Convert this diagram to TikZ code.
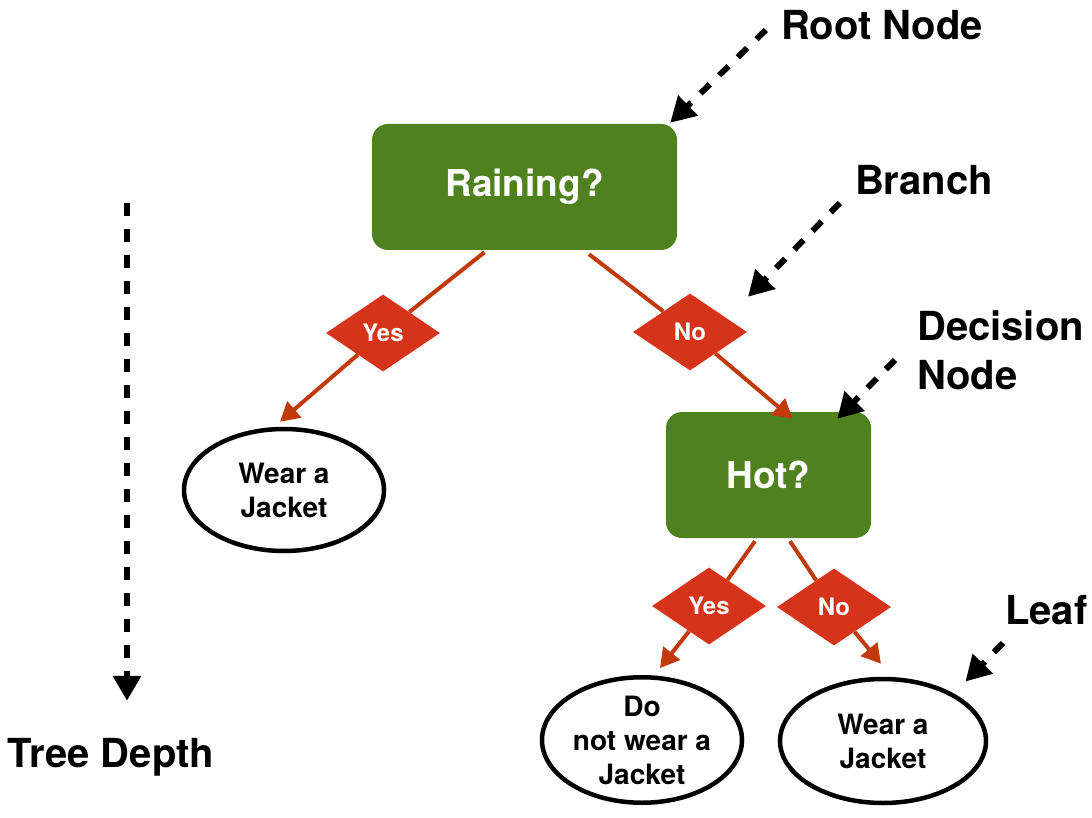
\documentclass[tikz,border=0pt]{standalone}
\usepackage{fontspec}
\setmainfont{TeX Gyre Heros}
\usepackage{xcolor}
\definecolor{boxgreen}{HTML}{4F821E}
\definecolor{diamred}{HTML}{D5331A}
\definecolor{linered}{HTML}{C03A0C}
\usepackage{tikz}
\usetikzlibrary{shapes,arrows.meta}
\tikzstyle{question} = [rectangle, rounded corners=16pt, fill=boxgreen, text=white,
    minimum height=126pt, font=\bfseries\fontsize{37}{44}\selectfont]
\tikzstyle{answer} = [diamond, fill=diamred, text=white, inner sep=0pt,
    minimum width=114pt, minimum height=77pt, font=\bfseries\fontsize{24}{28}\selectfont]
\tikzstyle{outcome} = [ellipse, draw, line width=4.5pt, minimum width=200pt, minimum height=122pt,
    align=center, inner sep=0pt, font=\bfseries\fontsize{28}{34}\selectfont]
\tikzstyle{callout} = [inner sep=0pt, font=\bfseries\fontsize{40}{49}\selectfont]
\tikzstyle{line} = [draw=linered, line width=4pt]
\tikzstyle{pointer} = [draw, line width=6pt, dash pattern=on 13pt off 13pt,
    -{Triangle[width=27pt,length=25pt]}]

\begin{document}
\begin{tikzpicture}[x=1pt,y=-1pt]
    \useasboundingbox (0,0) rectangle (1092,818);
    % Place nodes
    \node [question,minimum width=305pt] (rain) at (524.5,187) {Raining?};
    \node [question,minimum width=205pt] (hot) at (768.5,475) {Hot?};
    \node [answer] (yes1) at (383,333) {Yes};
    \node [answer] (no1) at (690,332) {No};
    \node [answer] (yes2) at (709,606) {Yes};
    \node [answer] (no2) at (834,607) {No};
    \node [outcome] (wear1) at (284,490) {Wear a\\Jacket};
    \node [outcome] (nowear) at (642,740) {Do\\not wear a\\Jacket};
    \node [outcome,minimum width=206pt,minimum height=124pt] (wear2) at (883,741) {Wear a\\Jacket};

    % labels
    \node [callout] (rootlbl) at (882,25) {Root Node};
    \node [callout] (branchlbl) at (924,180) {Branch};
    \node [callout,anchor=west,align=left] (declbl) at (917,350) {Decision\\Node};
    \node [callout,anchor=west] (leaflbl) at (1005,610) {Leaf};
    \node [callout] (depthlbl) at (111,757) {Tree Depth};
    \coordinate (depthtop) at (127,203);

    % Draw edges
    \path [line] ([xshift=-40pt,yshift=-2pt]rain.south) -- (yes1);
    \path [line,-{Triangle[width=21pt,length=19pt]}] (yes1) -- ([xshift=-4pt,yshift=5pt]wear1.north);
    \path [line] ([xshift=64.5pt,yshift=-4pt]rain.south) -- (no1);
    \path [line,-{Triangle[width=21pt,length=19pt]}] (no1) -- ([xshift=24pt,yshift=-7pt]hot.north);
    \path [line] ([xshift=-13.5pt,yshift=-3pt]hot.south) -- (yes2);
    \path [line,-{Triangle[width=21pt,length=19pt]}] (yes2) -- ([xshift=18pt,yshift=7pt]nowear.north);
    \path [line] ([xshift=21.5pt,yshift=-3pt]hot.south) -- (no2);
    \path [line,-{Triangle[width=21pt,length=19pt]}] (no2) -- ([xshift=-2pt,yshift=13pt]wear2.north);

    % pointers
    \path [pointer] ([xshift=-15pt,yshift=-5pt]rootlbl.west) -- ([xshift=-7pt,yshift=1pt]rain.north east);
    \path [pointer] ([xshift=-15pt,yshift=-23pt]branchlbl.west) -- ([xshift=58pt,yshift=-3.5pt]no1.north);
    \path [pointer] ([xshift=-22pt,yshift=-10pt]declbl.west) -- ([xshift=-34pt,yshift=-7pt]hot.north east);
    \path [pointer] ([xshift=-2pt,yshift=-33pt]leaflbl.west) -- ([xshift=8pt,yshift=14pt]wear2.north east);
    \path [pointer] (depthtop) -- ([xshift=16pt,yshift=37pt]depthlbl.north);
\end{tikzpicture}
\end{document}
